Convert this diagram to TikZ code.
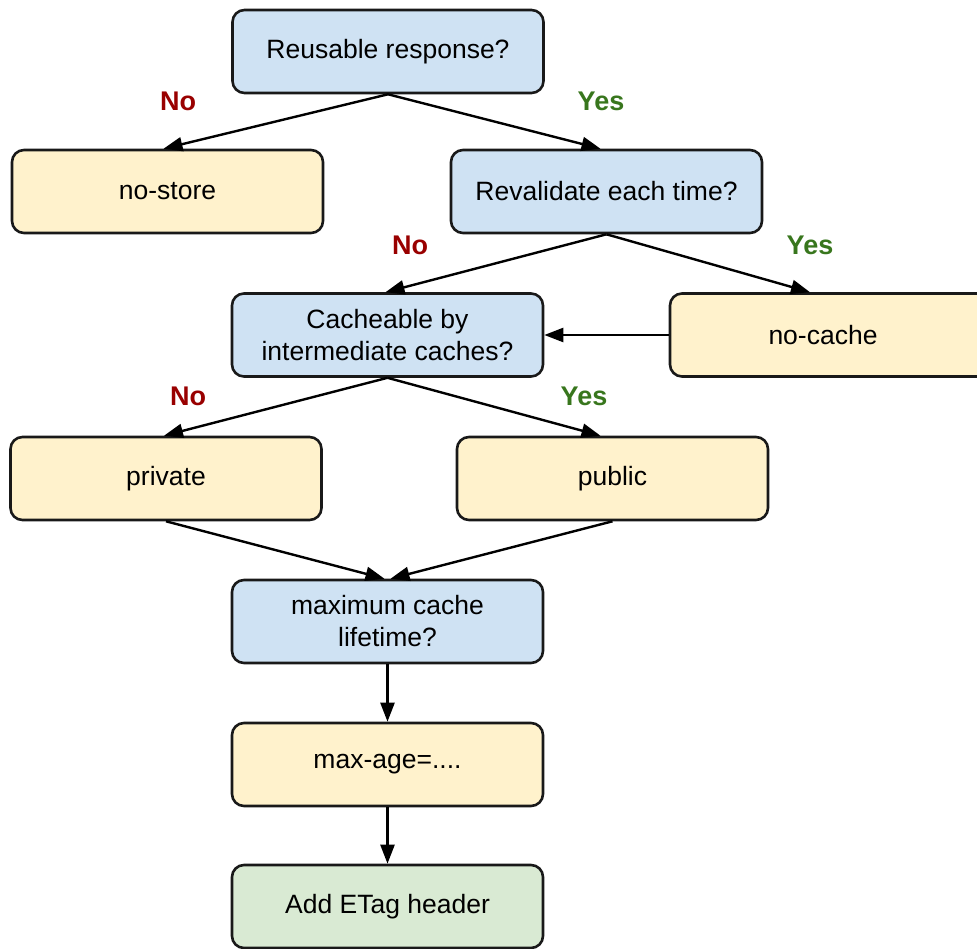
\documentclass[tikz,border=0pt]{standalone}
\usepackage{fontspec}
\setmainfont{Liberation Sans}
\usetikzlibrary{arrows.meta}
\definecolor{askblue}{HTML}{CFE2F3}
\definecolor{ansyellow}{HTML}{FFF2CC}
\definecolor{endgreen}{HTML}{D9EAD3}
\definecolor{nored}{HTML}{990000}
\definecolor{yesgreen}{HTML}{38761D}
\tikzset{
  box/.style={draw=black!90, line width=2.6pt, rounded corners=12pt,
    minimum width=311pt, minimum height=83pt, align=center,
    font=\fontsize{26.5}{32}\selectfont},
  ask/.style={box, fill=askblue},
  ans/.style={box, fill=ansyellow},
  fin/.style={box, fill=endgreen},
  nolabel/.style={text=nored, font=\fontsize{27}{30}\selectfont\bfseries},
  yeslabel/.style={text=yesgreen, font=\fontsize{27}{30}\selectfont\bfseries},
  flow/.style={-{Triangle[length=19pt,width=14pt]}, line width=2.4pt},
}
\begin{document}
\begin{tikzpicture}[x=1pt, y=-1pt]
\useasboundingbox (0,0) rectangle (977,949);
\clip (0,0) rectangle (977,949);
% questions and answers
\node[ask] (reuse) at (388,51.5) {Reusable response?};
\node[ans] (nostore) at (167.5,191.5) {no-store};
\node[ask] (reval) at (606.5,191.5) {Revalidate each time?};
\node[ask] (cache) at (387.5,335) {Cacheable by\\intermediate caches?};
\node[ans, minimum width=330pt] (nocache) at (835,335) {\hspace*{-24pt}no-cache};
\node[ans] (private) at (166,478.5) {private};
\node[ans] (public) at (612.5,478.5) {public};
\node[ask] (maxcache) at (387.5,621.5) {maximum cache\\lifetime?};
\node[ans] (maxage) at (387.5,764.5) {max-age=....};
\node[fin] (etag) at (387.5,906.5) {Add ETag header};
% branch labels
\node[nolabel] (no1) at (178,101) {No};
\node[yeslabel] (yes1) at (601,101) {Yes};
\node[nolabel] (no2) at (410,245) {No};
\node[yeslabel] (yes2) at (810,245) {Yes};
\node[nolabel] (no3) at (188,396) {No};
\node[yeslabel] (yes3) at (584,396) {Yes};
% connectors
\draw[flow] (reuse.south) -- ([xshift=-4pt]nostore.north);
\draw[flow] (reuse.south) -- ([xshift=-6pt]reval.north);
\draw[flow] (reval.south) -- ([xshift=-2pt]cache.north);
\draw[flow] (reval.south) -- ([xshift=-25pt]nocache.north);
\draw[flow] (nocache.west) -- (cache.east);
\draw[flow] (cache.south) -- ([xshift=-2pt]private.north);
\draw[flow] (cache.south) -- ([xshift=-12pt]public.north);
\draw[flow] (private.south) -- ([xshift=-3pt]maxcache.north);
\draw[flow] (public.south) -- ([xshift=3pt]maxcache.north);
\draw[flow] (maxcache) -- (maxage);
\draw[flow] (maxage) -- (etag);
\end{tikzpicture}
\end{document}
